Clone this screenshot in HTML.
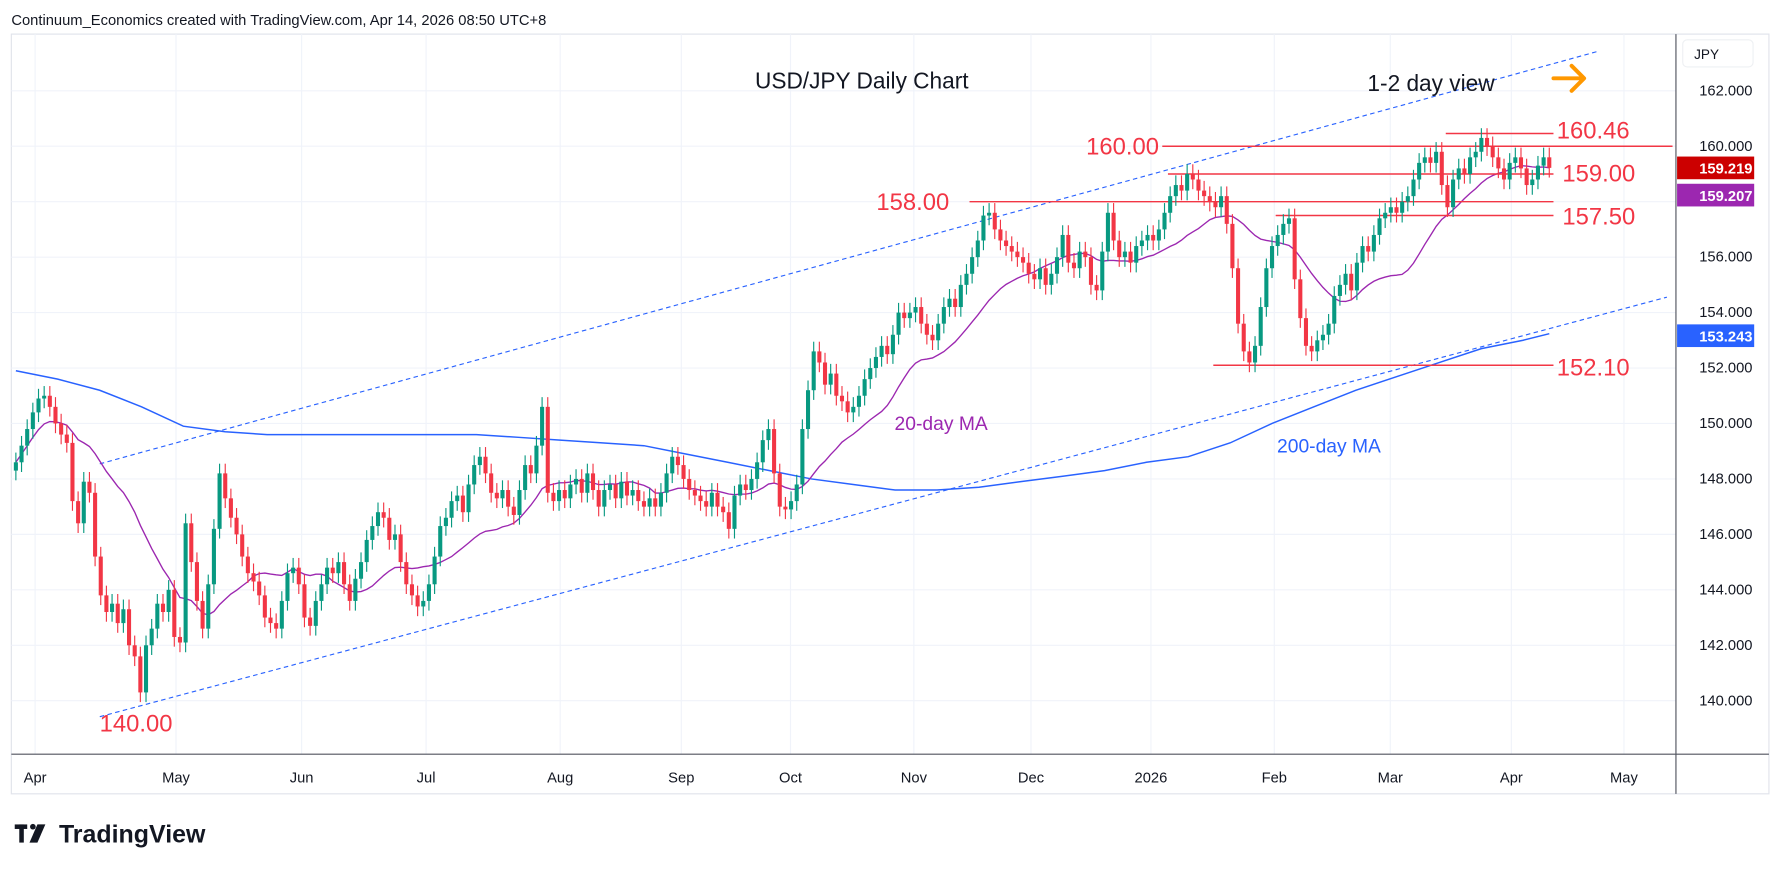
<!DOCTYPE html>
<html><head><meta charset="utf-8"><style>
html,body{margin:0;padding:0;background:#fff;}
svg{display:block;font-family:"Liberation Sans",sans-serif;}
</style></head><body>
<svg id="chart" width="1778" height="871" viewBox="0 0 1568 768" xmlns="http://www.w3.org/2000/svg">
<rect x="0" y="0" width="1568" height="768" fill="#fff"/>
<text x="10" y="22" font-size="13" fill="#131722">Continuum_Economics created with TradingView.com, Apr 14, 2026 08:50 UTC+8</text>
<rect x="10" y="30" width="1550" height="670" fill="none" stroke="#e0e3eb" stroke-width="1"/>
<g id="grid"></g>
<g id="lines"></g>
<g id="candles"></g>
<g id="annot"></g>
<line x1="10" y1="665" x2="1560" y2="665" stroke="#50535e" stroke-width="1"/>
<line x1="1478" y1="30" x2="1478" y2="700" stroke="#50535e" stroke-width="1"/>
<g id="axes"></g>
<rect x="1484" y="35" width="62" height="24" rx="4" fill="#fff" stroke="#eef0f3"/>
<text x="1494" y="52" font-size="12" fill="#131722">JPY</text>
<g>
<rect x="13" y="727" width="11" height="4" fill="#131722"/><rect x="17" y="727" width="4" height="16" fill="#131722"/>
<circle cx="29" cy="729" r="2.5" fill="#131722"/><polygon points="33,727 40,727 33,743 26,743" fill="#131722"/>
<text x="52" y="743" font-size="22" font-weight="bold" fill="#131722">TradingView</text>
</g>
</svg>
<script>
// ---- data ----
const closes = [148.6,149.2,149.8,150.4,150.9,151.0,150.6,150.0,149.6,149.3,
147.2,146.4,147.9,147.5,145.2,143.8,143.2,143.5,142.8,143.3,
142.0,141.6,140.3,142.0,142.6,143.5,143.2,144.0,142.3,142.1,
146.4,145.0,143.6,142.6,144.2,146.2,148.2,147.3,146.6,146.0,
145.2,144.6,144.3,143.8,143.0,142.8,142.6,143.6,144.6,144.8,
144.2,143.0,142.7,143.6,144.2,144.8,144.6,145.0,144.2,143.6,
144.4,145.0,145.8,146.3,146.8,146.6,145.8,146.0,145.0,144.2,
143.8,143.4,143.6,144.2,145.2,146.3,146.6,147.2,147.4,146.8,
147.8,148.5,148.8,148.2,147.5,147.3,147.6,147.0,146.7,147.6,
148.5,148.2,149.2,150.6,147.5,147.2,147.6,147.3,147.8,148.0,
147.5,148.2,147.6,147.0,147.6,147.8,147.3,147.9,147.4,147.6,
147.2,147.0,147.3,147.0,147.5,148.2,148.8,148.5,148.0,147.6,
147.4,147.2,147.0,147.5,147.0,146.8,146.2,147.4,147.8,147.6,
148.0,148.6,149.4,149.8,148.2,147.0,146.9,147.2,147.8,149.8,
151.2,152.6,152.2,151.4,151.8,151.0,150.8,150.4,150.6,151.0,
151.6,152.0,152.4,152.8,152.5,153.2,154.0,153.8,154.0,154.2,
153.6,153.2,153.0,153.6,154.2,154.5,154.2,155.0,155.4,156.0,
156.6,157.5,157.6,157.0,156.6,156.4,156.2,156.0,155.8,155.4,
155.2,155.6,155.0,155.4,156.0,156.8,155.8,155.6,156.2,156.0,
155.0,154.8,156.2,157.6,156.6,156.0,156.2,155.8,156.4,156.6,
156.8,156.6,157.0,157.6,158.2,158.6,158.4,159.0,158.8,158.4,
158.2,158.0,157.8,158.2,157.2,155.6,153.6,152.6,152.2,152.8,
154.2,155.6,156.4,156.8,157.2,157.4,155.2,153.8,152.8,152.6,
153.0,153.2,153.6,154.6,155.0,155.4,154.8,155.8,156.4,156.2,
156.8,157.4,157.6,157.8,157.6,158.0,158.2,158.8,159.4,159.6,
159.4,159.8,158.6,157.8,158.8,159.2,159.0,159.6,159.8,160.3,
160.0,159.6,159.2,158.8,159.4,159.6,159.2,158.6,158.8,159.3,
159.6,159.22];
const firstOpen = 148.3;
const ma200 = [151.9,151.6,151.2,150.6,149.9,149.7,149.6,149.6,149.6,149.6,149.6,149.6,149.5,149.4,149.3,149.2,148.9,148.6,148.3,148.0,147.8,147.6,147.6,147.7,147.9,148.1,148.3,148.6,148.8,149.3,150.0,150.6,151.2,151.7,152.2,152.7,153.0,153.24];
const ma200Step = 7.4; // bars between ma200 samples
const priceTicks = [162,160,158,156,154,152,150,148,146,144,142,140];
const monthLabels = ["Apr","May","Jun","Jul","Aug","Sep","Oct","Nov","Dec","2026","Feb","Mar","Apr","May"];
const monthBars = [3.4,28.3,50.5,72.5,96.2,117.6,136.9,158.7,179.4,200.6,222.4,242.9,264.3,284.2];
const levels = [160.46,160.00,159.00,158.00,157.50,152.10];
const levelStart = [1275,1025,1030,855,1125,1070];
const levelEnd = [1370,1475,1370,1370,1370,1370];

// ---- scales ----
const X0 = 14, STEP = 4.99;
const xOf = i => X0 + i*STEP;
const yOf = p => 80 + (162 - p)*24.45;
const NS = "http://www.w3.org/2000/svg";
function mk(tag, parent, attrs){ const e=document.createElementNS(NS,tag); for(const k in attrs) e.setAttribute(k,attrs[k]); parent.appendChild(e); return e; }
const grid=document.getElementById('grid'), lines=document.getElementById('lines'), cg=document.getElementById('candles'), axes=document.getElementById('axes'), annot=document.getElementById('annot');

priceTicks.forEach(p=>{
  const l=mk('line',grid,{x1:10,x2:1478,y1:yOf(p),y2:yOf(p),stroke:'#f0f3fa','stroke-width':1});
  
  
  const t=mk('text',axes,{x:1522,y:yOf(p)+4,'font-size':13,'text-anchor':'middle',fill:'#131722'});
  t.textContent=p.toFixed(3);
  
  
});
monthLabels.forEach((m,k)=>{
  const x=xOf(monthBars[k]);
  const l=mk('line',grid,{x1:x,x2:x,y1:30,y2:665,stroke:'#f0f3fa','stroke-width':1});
  
  
  const t=mk('text',axes,{x:x,y:690,'font-size':13,'text-anchor':'middle',fill:'#131722'});
  t.textContent=m;
  
  
});

// channel lines
[[88,409,1410,45],[88,632,1470,262]].forEach(c=>{
  const l=mk('line',lines,{x1:c[0],y1:c[1],x2:c[2],y2:c[3],stroke:'#2962ff','stroke-width':1,'stroke-dasharray':'4,3'});
  
  
});
// ma200
let d='';
ma200.forEach((v,k)=>{ d+=(k?'L':'M')+xOf(Math.min(k*ma200Step,closes.length-1)).toFixed(1)+','+yOf(v).toFixed(1); });
const m2=mk('path',lines,{d:d,fill:'none',stroke:'#2962ff','stroke-width':1.3});


// ma20
d='';
closes.forEach((c,i)=>{ const s=closes.slice(Math.max(0,i-19),i+1); const a=s.reduce((x,y)=>x+y,0)/s.length; d+=(i?'L':'M')+xOf(i).toFixed(1)+','+yOf(a).toFixed(1); });
const m1=mk('path',lines,{d:d,fill:'none',stroke:'#9c27b0','stroke-width':1.2});



// levels
levels.forEach((p,k)=>{
  const l=mk('line',lines,{x1:levelStart[k],x2:levelEnd[k],y1:yOf(p),y2:yOf(p),stroke:'#f23645','stroke-width':1.3});
  
  
});

// candles
closes.forEach((c,i)=>{
  const o = i? closes[i-1] : firstOpen;
  const hi=Math.max(o,c)+0.35, lo=Math.min(o,c)-0.35;
  const col = c>=o ? '#089981' : '#f23645';
  const x=xOf(i);
  const w=mk('line',cg,{x1:x,x2:x,y1:yOf(hi),y2:yOf(lo),stroke:col,'stroke-width':1});
  
  
  const top=yOf(Math.max(o,c)), h=Math.max(1,yOf(Math.min(o,c))-top);
  const b=mk('rect',cg,{x:x-1.8,y:top,width:3.6,height:h,fill:col});
  
  
});

// annotations
function txt(s,x,y,size,fill,anchor,name,weight){
  const t=mk('text',annot,{x:x,y:y,'font-size':size,fill:fill,'text-anchor':anchor||'start','font-weight':weight||'normal'});
  t.textContent=s;
  
  
}
txt('USD/JPY Daily Chart',760,78,20,'#131722','middle','chart-title');
txt('1-2 day view',1262,80,20,'#131722','middle','view-label');
txt('160.00',990,136,21,'#f23645','middle','level-label-160');
txt('158.00',805,185,21,'#f23645','middle','level-label-158');
txt('160.46',1405,122,21,'#f23645','middle','level-label-16046');
txt('159.00',1410,160,21,'#f23645','middle','level-label-159');
txt('157.50',1410,198,21,'#f23645','middle','level-label-1575');
txt('152.10',1405,331,21,'#f23645','middle','level-label-1521');
txt('140.00',120,645,21,'#f23645','middle','level-label-140');
txt('20-day MA',830,379,17,'#9c27b0','middle','ma20-label');
txt('200-day MA',1172,399,17,'#2962ff','middle','ma200-label');
const ar=mk('path',annot,{d:'M1370,69 L1396,69 M1386,58 L1397,69 L1386,80',fill:'none',stroke:'#ff9800','stroke-width':3.5,'stroke-linecap':'round','stroke-linejoin':'round'});



// price tags
[[159.219,'#cc0000',148],[159.207,'#9c27b0',172],[153.243,'#2962ff',296]].forEach(t=>{
  const r=mk('rect',axes,{x:1479,y:t[2]-10,width:68,height:20,fill:t[1]});
  
  
  const s=mk('text',axes,{x:1522,y:t[2]+5,'font-size':13,'font-weight':'bold','text-anchor':'middle',fill:'#fff'});
  s.textContent=t[0].toFixed(3);
  
  
});
</script>
</body></html>
